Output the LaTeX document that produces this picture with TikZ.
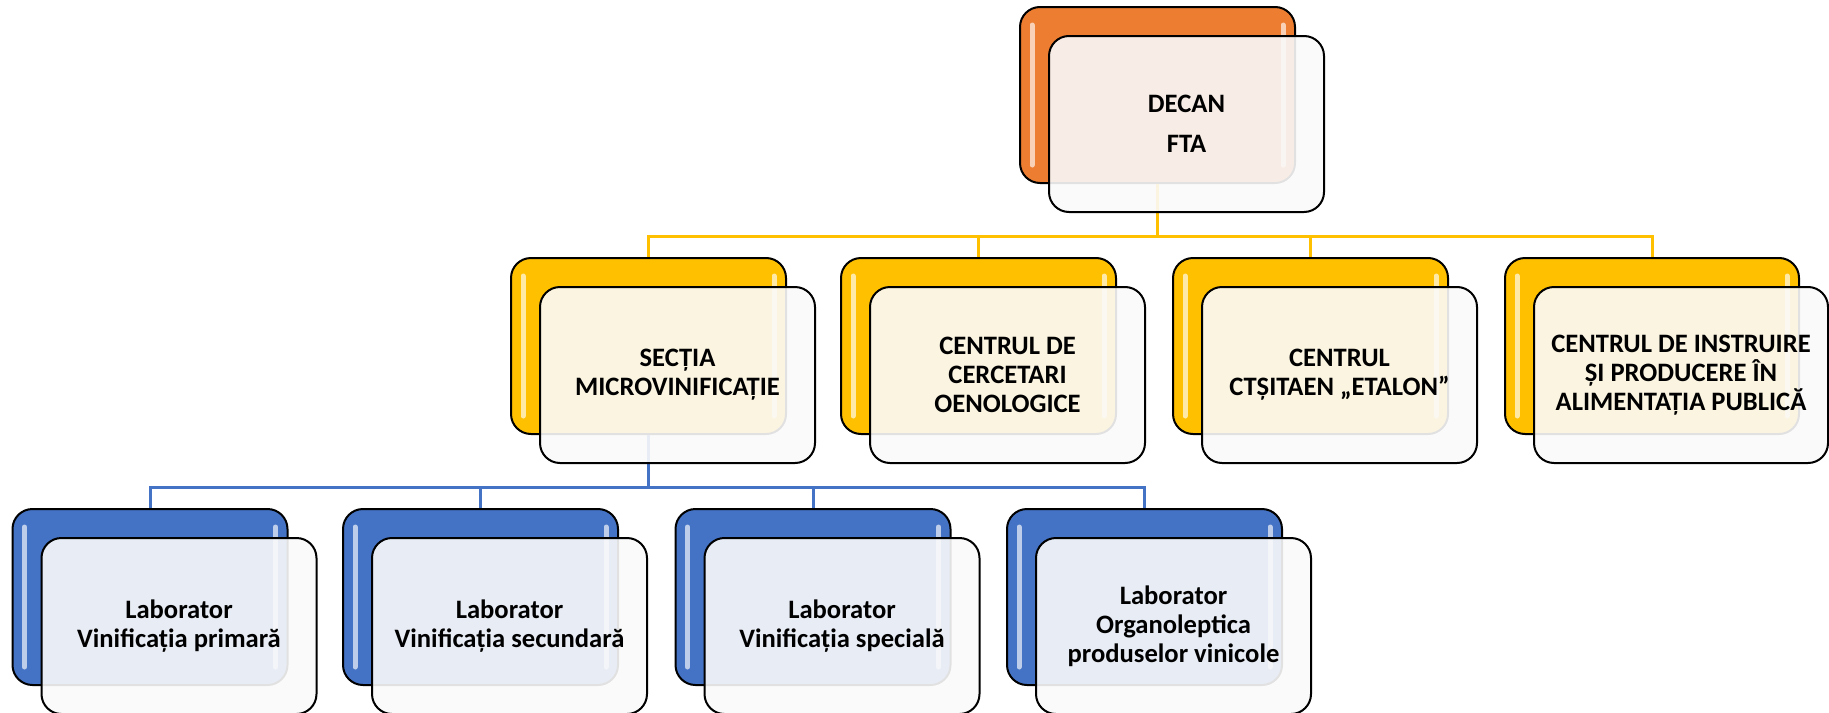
\documentclass[tikz,border=0pt]{standalone}
\usepackage{fontspec}
\setmainfont{Carlito}
\definecolor{decorange}{HTML}{ED7D31}
\definecolor{secyellow}{HTML}{FFC000}
\definecolor{labblue}{HTML}{4472C4}
\definecolor{frontfill}{HTML}{FAFAFA}

\tikzset{
  back/.style={draw, rounded corners=10pt, line width=1pt, inner sep=0pt,
    minimum width=137.5pt, minimum height=88pt,
    path picture={
      \draw[white, opacity=.65, line width=2.5pt, line cap=round]
        ([xshift=6pt,yshift=-9pt]path picture bounding box.north west) --
        ([xshift=6pt,yshift=9pt]path picture bounding box.south west)
        ([xshift=-6pt,yshift=-9pt]path picture bounding box.north east) --
        ([xshift=-6pt,yshift=9pt]path picture bounding box.south east);}},
  front/.style={draw, rounded corners=10pt, line width=1pt, inner sep=0pt,
    fill=frontfill, fill opacity=.9, text opacity=1, align=center,
    minimum width=137.5pt, minimum height=88pt, xshift=14.5pt, yshift=-14.5pt,
    font=\fontsize{13.3}{14.5}\selectfont\bfseries},
  ybus/.style={secyellow, line width=1.5pt},
  bbus/.style={labblue, line width=1.5pt}
}

\begin{document}
\begin{tikzpicture}[x=0.5pt, y=-0.5pt]
\useasboundingbox (0,0) rectangle (1829,712);

% back boxes
\node (dec)[back, fill=decorange] at (1157.5,95) {};
\node (s1)[back, fill=secyellow] at (648.5,346) {};
\node (s2)[back, fill=secyellow] at (978.5,346) {};
\node (s3)[back, fill=secyellow] at (1310.5,346) {};
\node (s4)[back, fill=secyellow, minimum width=147pt] at (1652,346) {};
\node (l1)[back, fill=labblue] at (150,597) {};
\node (l2)[back, fill=labblue] at (480.5,597) {};
\node (l3)[back, fill=labblue] at (813,597) {};
\node (l4)[back, fill=labblue] at (1144.5,597) {};

% connectors
\coordinate (ytop) at (1157.5,236);
\coordinate (btop) at (648.5,487);
\draw[ybus] (dec.south) -- (ytop) -| (s1.north);
\draw[ybus] (ytop) -| (s2.north);
\draw[ybus] (ytop) -| (s3.north);
\draw[ybus] (ytop) -| (s4.north);
\draw[bbus] (s1.south) -- (btop) -| (l1.north);
\draw[bbus] (btop) -| (l2.north);
\draw[bbus] (btop) -| (l3.north);
\draw[bbus] (btop) -| (l4.north);

% front boxes
\node (decf)[front] at (dec) {DECAN\\[5.5pt]FTA};
\node (s1f)[front] at (s1) {SECȚIA\\MICROVINIFICAȚIE};
\node (s2f)[front] at (s2) {CENTRUL DE\\CERCETARI\\OENOLOGICE};
\node (s3f)[front] at (s3) {CENTRUL\\CTȘITAEN „ETALON”};
\node (s4f)[front, minimum width=147pt] at (s4) {CENTRUL DE INSTRUIRE\\ȘI PRODUCERE ÎN\\ALIMENTAȚIA PUBLICĂ};
\node (l1f)[front] at (l1) {Laborator\\Vinificația primară};
\node (l2f)[front] at (l2) {Laborator\\Vinificația secundară};
\node (l3f)[front] at (l3) {Laborator\\Vinificația specială};
\node (l4f)[front] at (l4) {Laborator\\Organoleptica\\produselor vinicole};
\end{tikzpicture}
\end{document}
